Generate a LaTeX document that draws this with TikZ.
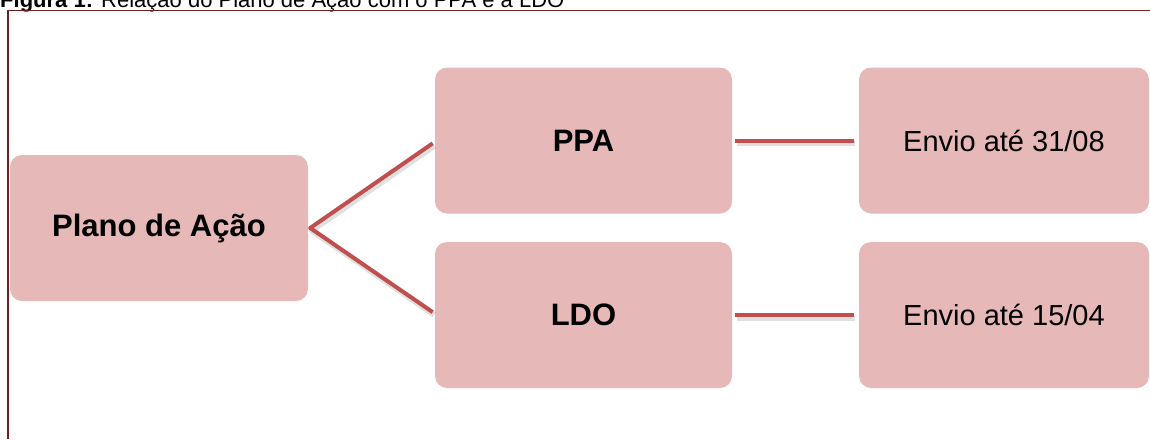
\documentclass[tikz,border=0pt]{standalone}
\usepackage{fontspec}
\setmainfont{Liberation Sans}
\definecolor{boxfill}{HTML}{E6B8B7}
\definecolor{linecol}{HTML}{C0504D}
\definecolor{framecol}{HTML}{6E2020}
\tikzset{
  smbox/.style={fill=boxfill, rounded corners=12pt, minimum width=297pt, minimum height=146pt, inner sep=0pt, text=black},
  bigtext/.style={font=\fontsize{31}{37}\selectfont\bfseries},
  smalltext/.style={font=\fontsize{29}{35}\selectfont},
  conn/.style={draw=linecol, line width=4pt, line join=round},
  connshadow/.style={draw=black, opacity=0.12, line width=6pt, line join=round},
}
\begin{document}
\begin{tikzpicture}[x=1pt,y=-1pt]
\useasboundingbox (0,0) rectangle (1150,439);
\clip (0,0) rectangle (1150,439);
\node[anchor=base west, inner sep=0pt, font=\fontsize{22}{26}\selectfont] (cap) at (0,7.5) {\textbf{Figura 1:} Relação do Plano de Ação com o PPA e a LDO};
\draw[framecol, line width=1.6pt] (7.8,439) -- (7.8,10.5) -- (1150,10.5);

\node[smbox, bigtext, minimum width=298pt] (plano) at (159,228) {Plano de Ação};
\node[smbox, bigtext] (ppa) at (583.5,140.5) {PPA};
\node[smbox, bigtext] (ldo) at (583.5,315) {LDO};
\node[smbox, smalltext, minimum width=290pt] (env1) at (1004,140.5) {Envio até 31/08};
\node[smbox, smalltext, minimum width=290pt] (env2) at (1004,315) {Envio até 15/04};

\begin{scope}[transform canvas={shift={(1.5pt,-2.5pt)}}]
\draw[connshadow, shorten <=5pt, shorten >=5pt] ([xshift=2pt]ppa.west) -- ([xshift=2pt]plano.east) -- ([xshift=2pt]ldo.west);
\draw[connshadow, shorten <=3pt, shorten >=5pt] (ppa.east) -- (env1.west);
\draw[connshadow, shorten <=3pt, shorten >=5pt] (ldo.east) -- (env2.west);
\end{scope}
\draw[conn, shorten <=5pt, shorten >=5pt] ([xshift=2pt]ppa.west) -- ([xshift=2pt]plano.east) -- ([xshift=2pt]ldo.west);
\draw[conn, shorten <=3pt, shorten >=5pt] (ppa.east) -- (env1.west);
\draw[conn, shorten <=3pt, shorten >=5pt] (ldo.east) -- (env2.west);
\end{tikzpicture}
\end{document}
